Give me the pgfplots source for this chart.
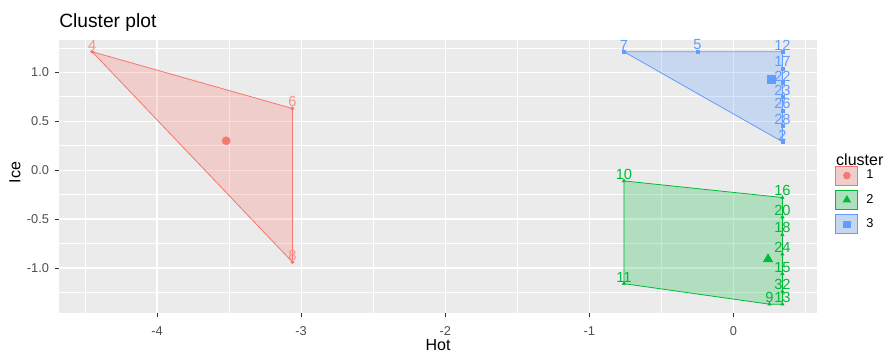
\documentclass[border=0pt]{standalone}
\usepackage{fontspec}
\setmainfont{Liberation Sans}
\usepackage{pgfplots}
\pgfplotsset{compat=1.18}
\definecolor{c1}{HTML}{F8766D}
\definecolor{c2}{HTML}{00BA38}
\definecolor{c3}{HTML}{619CFF}
\definecolor{bg}{HTML}{EBEBEB}
\definecolor{tickgray}{HTML}{4D4D4D}
\definecolor{tickmark}{HTML}{333333}
\begin{document}
\begin{tikzpicture}
\path[use as bounding box] (-44.25pt,-30.75pt) rectangle (618.75pt,234.75pt);
\begin{axis}[
  at={(0,0)}, anchor=south west,
  scale only axis, width=568.5pt, height=204.75pt,
  xmin=-4.68, xmax=0.58, ymin=-1.46, ymax=1.33,
  clip mode=individual,
  axis background/.style={fill=bg},
  axis line style={draw=none},
  xtick={-4,-3,-2,-1,0}, ytick={-1,-0.5,0,0.5,1},
  minor xtick={-4.5,-3.5,-2.5,-1.5,-0.5,0.5},
  minor ytick={-1.25,-0.75,-0.25,0.25,0.75,1.25},
  grid=both,
  major grid style={white, line width=0.9pt},
  minor grid style={white, line width=0.45pt},
  tick pos=left, tick align=outside,
  major tick length=3pt, minor tick length=0pt,
  tick style={tickmark, line width=0.5pt},
  /pgf/number format/assume math mode=true,
  ticklabel style={font=\fontsize{9.6}{11}\selectfont, text=tickgray},
  xticklabel style={yshift=-3.5pt},
  yticklabel style={xshift=-1pt, /pgf/number format/.cd, fixed, fixed zerofill, precision=1},
  xticklabel style={/pgf/number format/.cd, fixed, precision=0},
  title={Cluster plot},
  title style={at={(axis description cs:0,1.035)}, anchor=west, font=\fontsize{14.4}{16}\selectfont, inner sep=0pt},
  xlabel={Hot}, ylabel={Ice},
  xlabel style={at={(axis description cs:0.5,-0.118)}, anchor=center, inner sep=0pt, font=\fontsize{12}{14}\selectfont},
  ylabel style={at={(axis description cs:-0.058,0.515)}, anchor=center, rotate=0, font=\fontsize{12}{14}\selectfont},
  legend style={at={(axis description cs:1.024,0.54)}, anchor=north west, draw=none, fill=none,
    inner sep=0pt, row sep=3.6pt, font=\fontsize{9.6}{11}\selectfont,
    nodes={inner sep=0pt, anchor=west}, column sep=6pt},
  legend cell align=left,
  every node near coord/.append style={font=\fontsize{11}{13}\selectfont, anchor=south, inner sep=1pt, yshift=0pt},
]
% hulls
\addplot[draw=c1, fill=c1, fill opacity=0.25, line width=0.6pt, forget plot]
  coordinates {(-4.45,1.21) (-3.06,0.63) (-3.06,-0.94)} -- cycle;
\addplot[draw=c3, fill=c3, fill opacity=0.25, line width=0.6pt, forget plot]
  coordinates {(-0.76,1.21) (0.34,1.21) (0.34,0.29)} -- cycle;
\addplot[draw=c2, fill=c2, fill opacity=0.25, line width=0.6pt, forget plot]
  coordinates {(-0.76,-0.11) (0.34,-0.28) (0.34,-1.37) (0.25,-1.37) (-0.76,-1.16)} -- cycle;
% points with labels
\addplot[only marks, mark=*, mark size=1.2pt, c1, forget plot,
  nodes near coords, point meta=explicit symbolic,
  every node near coord/.append style={text=c1!80!white}]
  table[meta=label] {
x y label
-4.45 1.21 4
-3.06 0.63 6
-3.06 -0.94 8
};
\addplot[only marks, mark=square*, mark size=1.2pt, c3, forget plot,
  nodes near coords, point meta=explicit symbolic,
  every node near coord/.append style={text=c3}]
  table[meta=label] {
x y label
-0.76 1.21 7
-0.25 1.21 5
0.34 1.21 12
0.34 1.04 17
0.34 0.89 22
0.34 0.75 23
0.34 0.61 26
0.34 0.45 28
0.34 0.29 2
};
\addplot[only marks, mark=triangle*, mark size=1.4pt, c2, forget plot,
  nodes near coords, point meta=explicit symbolic,
  every node near coord/.append style={text=c2}]
  table[meta=label] {
x y label
-0.76 -0.11 10
0.34 -0.28 16
-0.76 -1.16 11
0.25 -1.37 9
0.34 -1.37 13
0.34 -0.48 20
0.34 -0.66 18
0.34 -0.86 24
0.34 -1.06 15
0.34 -1.24 32
};
% centroids
\addplot[only marks, mark=*, mark size=3pt, c1, forget plot] coordinates {(-3.52,0.30)};
\addplot[only marks, mark=triangle*, mark size=4pt, c2, forget plot] coordinates {(0.24,-0.91)};
\addplot[only marks, mark=square*, mark size=3pt, c3, forget plot] coordinates {(0.26,0.93)};
% legend
\addlegendimage{legend image code/.code={
  \filldraw[draw=c1, fill=c1!25!bg, line width=0.6pt] (0pt,-7pt) rectangle (16.5pt,7pt);
  \draw[c1] plot[mark=*, mark size=2.6pt] coordinates {(8.25pt,0pt)};}}
\addlegendentry{1}
\addlegendimage{legend image code/.code={
  \filldraw[draw=c2, fill=c2!25!bg, line width=0.6pt] (0pt,-7pt) rectangle (16.5pt,7pt);
  \draw[c2] plot[mark=triangle*, mark size=3.2pt] coordinates {(8.25pt,0pt)};}}
\addlegendentry{2}
\addlegendimage{legend image code/.code={
  \filldraw[draw=c3, fill=c3!25!bg, line width=0.6pt] (0pt,-7pt) rectangle (16.5pt,7pt);
  \draw[c3] plot[mark=square*, mark size=2.4pt] coordinates {(8.25pt,0pt)};}}
\addlegendentry{3}
\node[anchor=west, font=\fontsize{12}{14}\selectfont, inner sep=0pt] at (axis description cs:1.025,0.56) {cluster};
\end{axis}
\end{tikzpicture}
\end{document}
